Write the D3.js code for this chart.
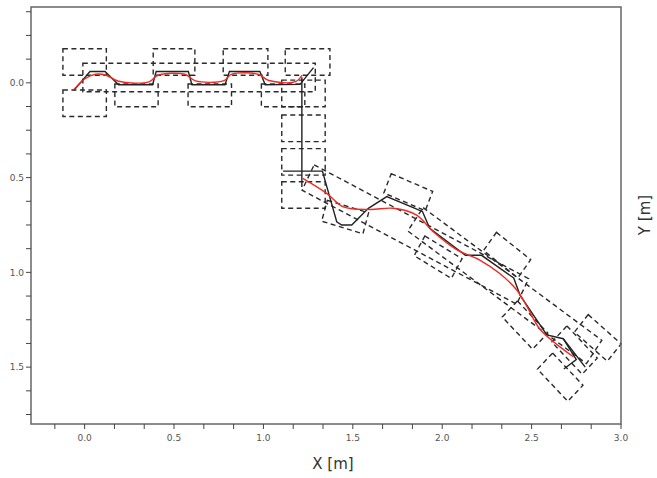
<!DOCTYPE html>
<html>
<head>
<meta charset="utf-8">
<script src="https://cdn.jsdelivr.net/npm/d3@7"></script>
<style>
  body { margin: 0; background: #fff; }
  text { font-family: "DejaVu Sans", sans-serif; }
</style>
</head>
<body>
<div id="chart"></div>
<script>
// axis ticks
const xMajor = [0.0, 0.5, 1.0, 1.5, 2.0, 2.5, 3.0];
const xMinor = [-0.1667, 0.1667, 0.3333, 0.6667, 0.8333, 1.1667, 1.3333, 1.6667, 1.8333, 2.1667, 2.3333, 2.6667, 2.8333];
const yMajor = [0.0, 0.5, 1.0, 1.5];
const yMinor = [-0.375, -0.25, -0.125, 0.125, 0.25, 0.375, 0.625, 0.75, 0.875, 1.125, 1.25, 1.375, 1.625, 1.75];

// dashed boxes: [cx, cy, length, width, angle deg]
const rowBoxes = [
  [0.0, -0.11, 0.243, 0.14, 0], [0.50, -0.11, 0.233, 0.14, 0],
  [0.90, -0.11, 0.25, 0.14, 0], [1.247, -0.11, 0.25, 0.14, 0],
  [0.0, 0.108, 0.243, 0.14, 0], [0.29, 0.066, 0.242, 0.12, 0],
  [0.70, 0.066, 0.243, 0.12, 0], [1.11, 0.066, 0.243, 0.12, 0],
  [0.64, -0.028, 1.30, 0.15, 0]
];
const columnBoxes = [
  [1.224, 0.056, 0.243, 0.14, 0], [1.224, 0.24, 0.243, 0.14, 0],
  [1.224, 0.417, 0.243, 0.14, 0], [1.224, 0.592, 0.243, 0.14, 0]
];
const corridorBoxes = [
  [1.85, 0.80, 1.342, 0.15, 26.6],
  [2.35, 1.07, 1.22, 0.15, 35]
];
const footBoxes = [
  [1.81, 0.577, 0.25, 0.11, 22], [1.457, 0.708, 0.24, 0.115, 16],
  [1.977, 0.92, 0.24, 0.12, 30], [2.363, 0.909, 0.24, 0.12, 37],
  [2.463, 1.278, 0.24, 0.12, 45], [2.87, 1.346, 0.24, 0.12, 40],
  [2.66, 1.553, 0.24, 0.12, 45], [2.74, 1.41, 0.24, 0.12, 45]
];

// measured path (black)
const blackPaths = [
  [[-0.06, 0.04], [0.03, -0.06], [0.114, -0.06], [0.19, 0.01], [0.38, 0.01], [0.40, -0.06], [0.58, -0.06],
   [0.60, 0.01], [0.785, 0.01], [0.81, -0.06], [0.98, -0.06], [1.01, 0.01], [1.205, 0.008], [1.28, -0.08]],
  [[1.215, -0.03], [1.215, 0.55]],
  [[1.11, 0.466], [1.33, 0.466], [1.41, 0.733], [1.438, 0.75], [1.494, 0.75], [1.587, 0.662], [1.69, 0.60],
   [1.848, 0.662], [1.89, 0.68], [1.93, 0.768], [2.13, 0.91], [2.22, 0.91], [2.40, 1.03], [2.435, 1.12],
   [2.585, 1.33], [2.677, 1.35], [2.75, 1.46], [2.68, 1.51]],
  [[2.677, 1.35], [2.80, 1.50]]
];

// smoothed path (red)
const redPaths = [
  [[-0.06, 0.035], [0.0, -0.02], [0.06, -0.045], [0.12, -0.04], [0.19, -0.008], [0.36, -0.005], [0.41, -0.04],
   [0.56, -0.045], [0.62, -0.01], [0.78, -0.012], [0.82, -0.045], [0.97, -0.045], [1.03, -0.012],
   [1.18, -0.006], [1.215, -0.04]],
  [[1.22, 0.504], [1.354, 0.583], [1.447, 0.654], [1.596, 0.668], [1.726, 0.662], [1.857, 0.698], [1.95, 0.786],
   [2.08, 0.88], [2.21, 0.935], [2.32, 1.005], [2.417, 1.093], [2.48, 1.19], [2.547, 1.30], [2.733, 1.445]]
];

let width = 657,
height = 478;

let x = d3.scaleLinear().domain([-0.3, 3.0]).range([31, 621]);
let y = d3.scaleLinear().domain([-0.4, 1.8]).range([7, 424]);

let svg = d3.select("#chart").append("svg")
  .attr("width", width)
  .attr("height", height);

let line = d3.line().x(d => x(d[0])).y(d => y(d[1]));

function corners(b) {
  let [cx, cy, L, W, a] = b;
  let r = a * Math.PI / 180, c = Math.cos(r), s = Math.sin(r);
  let hl = L / 2, hw = W / 2;
  return [[-hl, -hw], [hl, -hw], [hl, hw], [-hl, hw]]
    .map(p => [cx + p[0] * c - p[1] * s, cy + p[0] * s + p[1] * c]);
}

let boxes = rowBoxes.concat(columnBoxes, corridorBoxes, footBoxes);

svg.append("g").selectAll("path")
  .data(boxes)
  .enter()
  .append("path")
  .attr("d", d => line(corners(d)) + "Z")
  .attr("fill", "none")
  .attr("stroke", "#2a2a2a")
  .attr("stroke-width", 1.4)
  .attr("stroke-dasharray", "5,3.5");

svg.append("g").selectAll("path")
  .data(blackPaths)
  .enter()
  .append("path")
  .attr("d", line)
  .attr("fill", "none")
  .attr("stroke", "#222")
  .attr("stroke-width", 1.4);

let smooth = d3.line().x(d => x(d[0])).y(d => y(d[1])).curve(d3.curveCatmullRom);

svg.append("g").selectAll("path")
  .data(redPaths)
  .enter()
  .append("path")
  .attr("d", smooth)
  .attr("fill", "none")
  .attr("stroke", "#ee2a22")
  .attr("stroke-width", 1.4);

// frame
svg.append("rect")
  .attr("x", 31).attr("y", 7)
  .attr("width", 590).attr("height", 417)
  .attr("fill", "none")
  .attr("stroke", "#666")
  .attr("stroke-width", 1.5);

// bottom axis
let xAxis = svg.append("g").attr("transform", "translate(0,424)");
xAxis.selectAll(".tick")
  .data(xMajor.concat(xMinor))
  .enter()
  .append("line")
  .attr("x1", d => x(d)).attr("x2", d => x(d))
  .attr("y1", 0).attr("y2", 5)
  .attr("stroke", "#444")
  .attr("stroke-width", 1);
xAxis.selectAll("text")
  .data(xMajor)
  .enter()
  .append("text")
  .attr("x", d => x(d))
  .attr("y", 17)
  .attr("text-anchor", "middle")
  .attr("font-size", 9)
  .attr("fill", "#555")
  .text(d => d.toFixed(1));

// left axis
let yAxis = svg.append("g").attr("transform", "translate(31,0)");
yAxis.selectAll(".tick")
  .data(yMajor.concat(yMinor))
  .enter()
  .append("line")
  .attr("y1", d => y(d)).attr("y2", d => y(d))
  .attr("x1", 0).attr("x2", -5)
  .attr("stroke", "#444")
  .attr("stroke-width", 1);
yAxis.selectAll("text")
  .data(yMajor)
  .enter()
  .append("text")
  .attr("x", -7)
  .attr("y", d => y(d))
  .attr("dy", "0.35em")
  .attr("text-anchor", "end")
  .attr("font-size", 9)
  .attr("fill", "#555")
  .text(d => d.toFixed(1));

svg.append("text")
  .attr("x", 333).attr("y", 469)
  .attr("text-anchor", "middle")
  .attr("font-size", 15)
  .attr("fill", "#333")
  .text("X [m]");

svg.append("text")
  .attr("transform", "translate(650,215) rotate(-90)")
  .attr("text-anchor", "middle")
  .attr("font-size", 15)
  .attr("fill", "#333")
  .text("Y [m]");
</script>
</body>
</html>
